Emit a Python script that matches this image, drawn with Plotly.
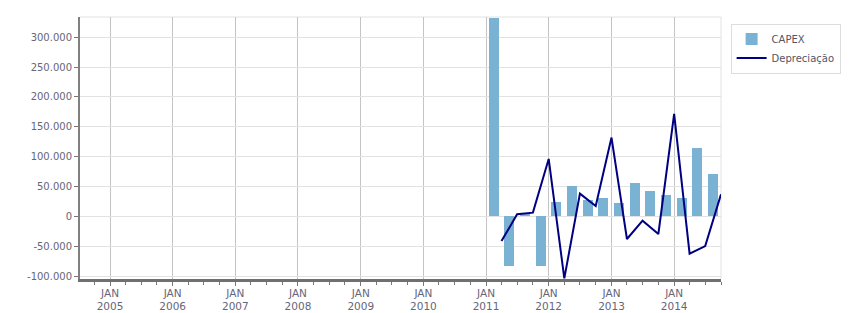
import plotly.graph_objects as go

# ---- data ----
capex_dates = ["2011-02-15", "2011-05-16", "2011-08-16", "2011-11-15",
               "2012-02-15", "2012-05-16", "2012-08-16", "2012-11-15",
               "2013-02-15", "2013-05-16", "2013-08-16", "2013-11-15",
               "2014-02-15", "2014-05-16", "2014-08-16"]
capex_values = [333000, -84000, 5500, -84000,
                23500, 50300, 26800, 30200,
                21800, 55400, 41900, 35200,
                30200, 114100, 70500]

dep_dates = ["2011-04-01", "2011-07-01", "2011-10-01", "2012-01-01",
             "2012-04-01", "2012-07-01", "2012-10-01", "2013-01-01",
             "2013-04-01", "2013-07-01", "2013-10-01", "2014-01-01",
             "2014-04-01", "2014-07-01", "2014-10-01"]
dep_values = [-41400, 3400, 6200, 96200,
              -104000, 38000, 17300, 132000,
              -38000, -7300, -29600, 171700,
              -62600, -49800, 36900]

years = list(range(2005, 2015))
x_tickvals = [f"{y}-01-01" for y in years]
x_ticktext = [f"JAN<br>{y}" for y in years]

y_tickvals = [-100000, -50000, 0, 50000, 100000, 150000, 200000, 250000, 300000]
y_ticktext = [f"{v:,}".replace(",", ".") for v in y_tickvals]

FONT = "DejaVu Sans"
TXT = "#66667a"

fig = go.Figure()
fig.add_trace(go.Bar(
    x=capex_dates, y=capex_values, name="CAPEX",
    marker=dict(color="#7ab2d4", line=dict(width=0)),
    width=58 * 86400000,
))
fig.add_trace(go.Scatter(
    x=dep_dates, y=dep_values, name="Depreciação", mode="lines",
    line=dict(color="#000080", width=2),
))

fig.update_layout(
    width=851, height=313,
    margin=dict(l=80, r=130, t=17, b=34, autoexpand=False),
    paper_bgcolor="white", plot_bgcolor="white",
    font=dict(family=FONT, size=10, color=TXT),
    showlegend=True,
    legend=dict(
        x=1.015, y=0.975, xanchor="left", yanchor="top",
        bordercolor="#dddddd", borderwidth=1, bgcolor="white",
        font=dict(family=FONT, size=10, color="#555566"),
        itemwidth=30, tracegroupgap=0,
    ),
    bargap=0,
)

fig.update_xaxes(
    type="date",
    range=["2004-07-10", "2014-10-01"],
    tickvals=x_tickvals, ticktext=x_ticktext,
    showgrid=True, gridcolor="#c4c4c4", gridwidth=1,
    ticks="outside", ticklen=4, tickcolor="#777777",
    minor=dict(ticks="outside", ticklen=3, tickcolor="#777777",
               dtick="M3", tick0="2005-01-01", showgrid=False),
    showline=True, linecolor="#707070", linewidth=3,
    tickfont=dict(family=FONT, size=10.5, color=TXT),
    ticklabelstandoff=-2,
    zeroline=False, automargin=False,
)
fig.update_yaxes(
    range=[-105000, 334000],
    tickvals=y_tickvals, ticktext=y_ticktext,
    showgrid=True, gridcolor="#e2e2e2", gridwidth=1,
    ticks="outside", ticklen=4, tickcolor="#777777",
    showline=True, linecolor="#808080", linewidth=2,
    zeroline=False, automargin=False,
    tickfont=dict(family=FONT, size=10, color=TXT),
)

# light border on top and right of plot area
fig.add_shape(type="line", xref="paper", yref="paper", x0=0, x1=1, y0=1, y1=1,
              line=dict(color="#e2e2e2", width=1), layer="below")
fig.add_shape(type="line", xref="paper", yref="paper", x0=1, x1=1, y0=0, y1=1,
              line=dict(color="#e2e2e2", width=1), layer="below")

fig.write_html("out.html")
